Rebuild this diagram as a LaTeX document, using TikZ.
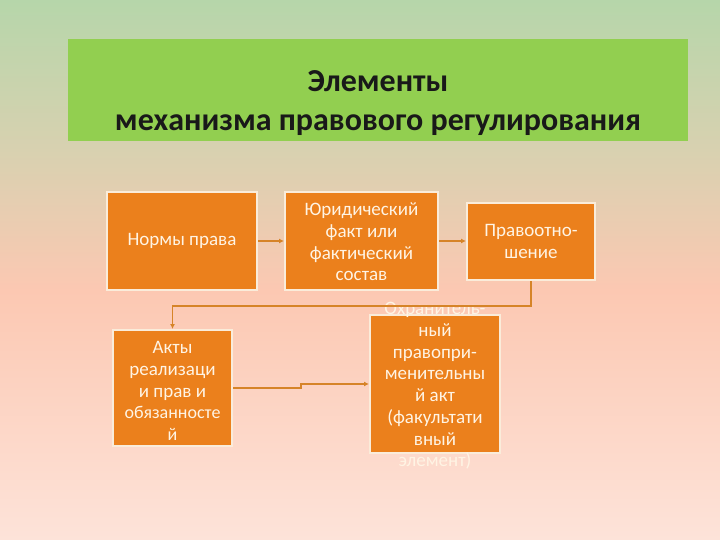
\documentclass[tikz,border=0pt]{standalone}
\usepackage{fontspec}
\setmainfont{Carlito}
\usetikzlibrary{arrows.meta}
\definecolor{bgA}{RGB}{182,214,170}
\definecolor{bgB}{RGB}{216,209,176}
\definecolor{bgC}{RGB}{252,200,178}
\definecolor{bgD}{RGB}{253,227,217}
\definecolor{titlegreen}{RGB}{146,207,80}
\definecolor{boxorange}{RGB}{235,128,28}
\definecolor{boxborder}{RGB}{250,236,218}
\definecolor{lineorange}{RGB}{214,132,40}
\definecolor{boxtext}{RGB}{255,244,228}
\tikzset{
  orbox/.style={draw=boxborder, line width=2pt, fill=boxorange, inner sep=0pt},
  btext/.style={text=boxtext, align=center, font=\fontsize{19}{21.6}\selectfont, inner sep=0pt},
  conn/.style={draw=lineorange, line width=1.4pt, -{Latex[length=5pt,width=5pt]}},
}
\begin{document}
\begin{tikzpicture}[x=1pt,y=-1pt]
\useasboundingbox (0,0) rectangle (720,540);
\shade[top color=bgA, bottom color=bgB] (0,0) rectangle (720,150.5);
\shade[top color=bgB, bottom color=bgC] (0,150) rectangle (720,290.5);
\shade[top color=bgC, bottom color=bgD] (0,290) rectangle (720,540);

\node[fill=titlegreen, minimum width=620, minimum height=102, inner sep=0pt] (title) at (378,90) {};
\node[align=center, font=\fontsize{32}{39}\selectfont\bfseries, text=black!90] (titleT) at (378,103) {Элементы\\механизма правового регулирования};

\node[orbox, minimum width=150, minimum height=98] (norms) at (182,241) {};
\node[btext] (normsT) at (182,241) {Нормы права};

\node[orbox, minimum width=153, minimum height=97] (jur) at (361.5,241) {};
\node[btext] (jurT) at (361.5,242) {Юридический\\факт или\\фактический\\состав};

\node[orbox, minimum width=128, minimum height=77] (rel) at (531,241.5) {};
\node[btext] (relT) at (531,241.5) {Правоотно-\\шение};

\node[orbox, minimum width=119, minimum height=116] (acts) at (172.5,388) {};
\node[btext] (actsT) at (172.5,391) {Акты\\реализаци\\и прав и\\{\fontsize{18}{20}\selectfont обязанносте}\\{\fontsize{18}{20}\selectfont й}};

\node[orbox, minimum width=130, minimum height=138] (prot) at (435,384) {};
\node[btext, font=\fontsize{19}{21.7}\selectfont] (protT) at (435,386) {Охранитель-\\ный\\правопри-\\менительны\\й акт\\(факультати\\вный\\элемент)};

\draw[conn] (norms.east) -- (jur.west);
\draw[conn] (jur.east) -- (jur.east -| rel.west);
\draw[conn] (rel.south) -- ++(0,25) -| (acts.north);
\draw[conn] (acts.east) -- ++(68,0) |- (prot.west);
\end{tikzpicture}
\end{document}
